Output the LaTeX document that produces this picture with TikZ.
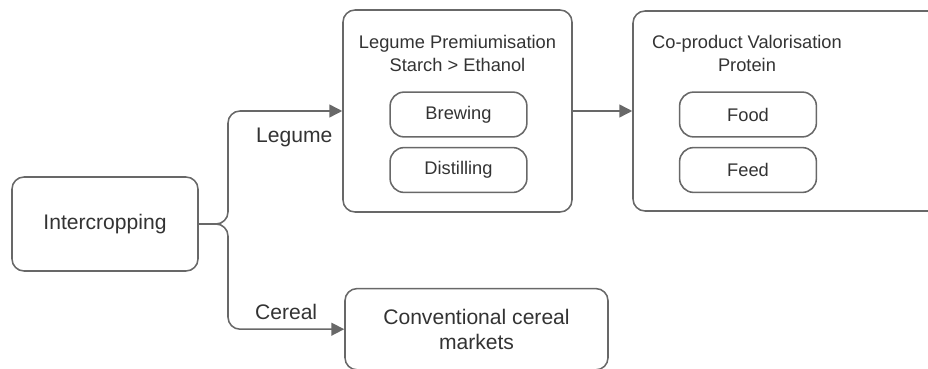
\documentclass[tikz,border=0pt]{standalone}
\usepackage{fontspec}
\setmainfont{Liberation Sans}
\usetikzlibrary{arrows.meta,positioning}
\definecolor{linegray}{HTML}{686868}
\definecolor{textgray}{HTML}{333333}

\begin{document}
\begin{tikzpicture}[
	box/.style={draw=linegray,line width=1.1pt,rounded corners=0.3cm,text=textgray},
	pill/.style={draw=linegray,line width=1.1pt,rounded corners=0.35cm,text=textgray,minimum width=3.42cm,minimum height=1.12cm},
	flow/.style={draw=linegray,line width=1.1pt,rounded corners=0.3cm,-{Triangle[length=0.32cm,width=0.32cm]}},
	bigtext/.style={font=\fontsize{15}{17.5}\selectfont},
	every node/.style={font=\fontsize{13}{16.5}\selectfont,text=textgray}
	]
	\useasboundingbox (0,0) rectangle (23.2,9.2);
	\node[box,bigtext,minimum width=4.65cm,minimum height=2.35cm] at (2.625,3.6) (inter) {Intercropping};
	\node[box,minimum width=5.725cm,minimum height=5.05cm] at (11.4375,6.425) (legume) {};
	\node[align=center] at (11.4375,7.8625) (legtitle) {Legume Premiumisation\\Starch > Ethanol};
	\node[pill] at (11.4625,6.3375) (brew) {Brewing};
	\node[pill] at (11.4625,4.95) (dist) {Distilling};
	\node[box,minimum width=7.8cm,minimum height=5.0cm] at (19.725,6.425) (coprod) {};
	\node[align=center] at (18.675,7.8625) (cotitle) {Co-product Valorisation\\Protein};
	\node[pill] at (18.7,6.3375) (food) {Food};
	\node[pill] at (18.7,4.95) (feed) {Feed};
	\node[box,bigtext,align=center,minimum width=6.575cm,minimum height=2.03cm] at (11.9125,0.97) (cereal) {Conventional cereal\\markets};
	\coordinate (split) at (5.7,3.6);
	\draw[flow] (inter.east) -- (split) |- (legume.west) node[bigtext,pos=0.79,below,yshift=-.28cm] {Legume};
	\draw[flow] (inter.east) -- (split) |- (cereal.west) node[bigtext,pos=0.75,above,yshift=.1cm] {Cereal};
	\draw[flow] (legume.east) -- (coprod.west);
  \end{tikzpicture}
\end{document}
